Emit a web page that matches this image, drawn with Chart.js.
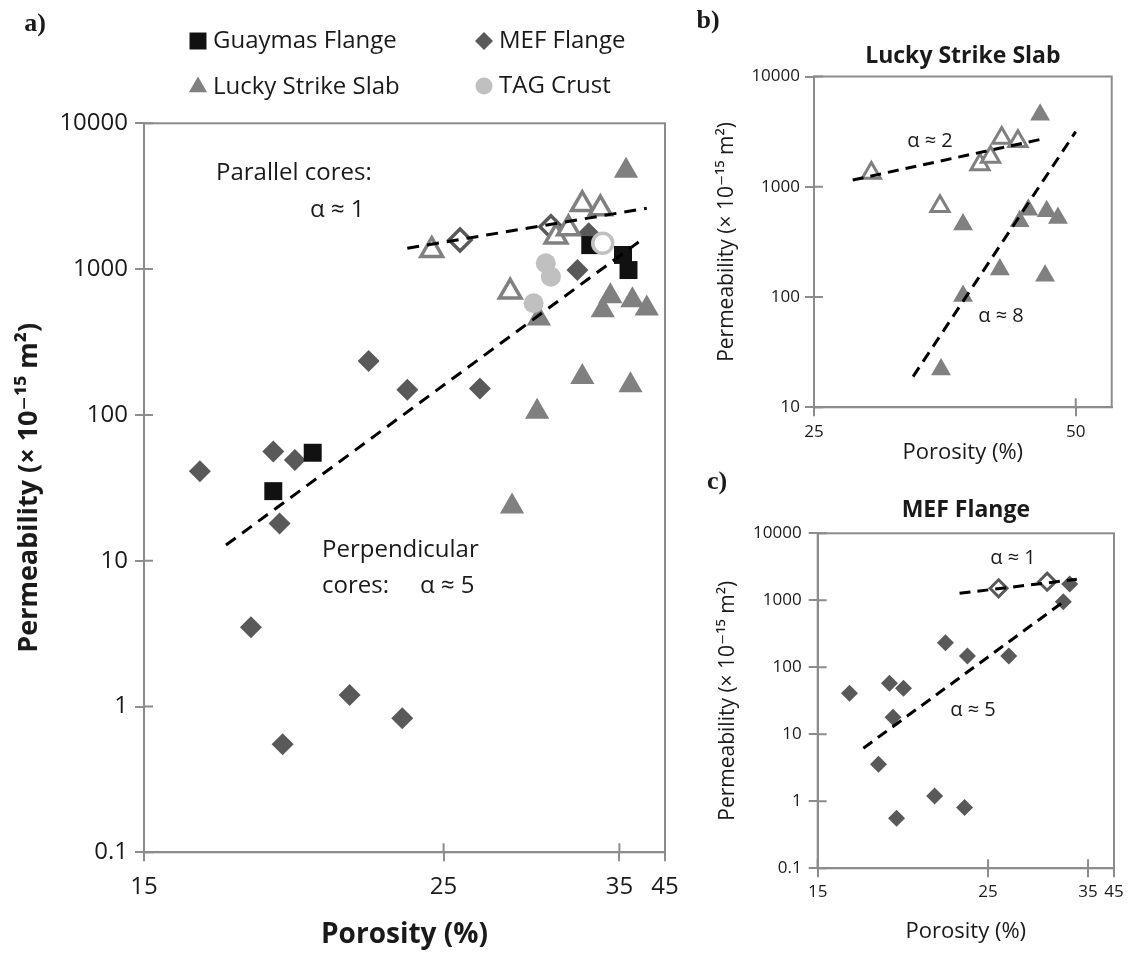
<!DOCTYPE html>
<html>
<head>
<meta charset="utf-8">
<script src="https://cdn.jsdelivr.net/npm/chart.js@4.4.1/dist/chart.umd.min.js"></script>
<style>
  body { margin: 0; background: #fff; }
  #wrap { position: relative; width: 1129px; height: 953px; }
  canvas { position: absolute; }
</style>
</head>
<body>
<div id="wrap">
  <canvas id="chartA" width="690" height="953" style="left:0;top:0"></canvas>
  <canvas id="chartB" width="439" height="480" style="left:690px;top:0"></canvas>
  <canvas id="chartC" width="439" height="493" style="left:690px;top:460px"></canvas>
</div>
<script>
// tick values
const porosityTicks = [15, 25, 35, 45];
const permTicks = [0.1, 1, 10, 100, 1000, 10000];
const slabPorosityTicks = [25, 50];
const slabPermTicks = [10, 100, 1000, 10000];

// panel a: all samples (porosity %, permeability x1e-15 m2)
const guaymasPhi = [33.1, 35.7, 36.8, 20.0, 18.7];
const guaymasK = [1460, 1250, 985, 55, 30];
const mefPhi = [22.0, 23.5, 26.8, 18.7, 19.4, 16.5, 18.9, 18.0, 21.3, 23.3, 19.0, 33.0, 32.3];
const mefK = [234, 149, 152, 56, 49, 41, 18, 3.5, 1.2, 0.83, 0.55, 1760, 985];
const mefParPhi = [25.8, 30.7];
const mefParK = [1585, 1950];
const lssPhi = [36.3, 34.4, 37.6, 40.7, 33.9, 30.0, 32.6, 37.2, 29.9, 28.5];
const lssK = [4720, 651, 612, 536, 522, 458, 182, 160, 105, 23.5];
const lssParPhi = [24.5, 28.4, 31.0, 31.75, 32.6, 33.75];
const lssParK = [1347, 698, 1664, 1897, 2783, 2600];
const tagPhi = [30.4, 30.7, 29.7];
const tagK = [1096, 887, 583];
const tagParPhi = [33.9];
const tagParK = [1503];
const fitParPhi = [23.5, 40.7];
const fitParK = [1390, 2612];
const fitPerpPhi = [17.25, 40.3];
const fitPerpK = [12.8, 1652];

// panel b: Lucky Strike slab
const slabPhi = [45.5, 44.1, 43.1, 46.3, 47.7, 37.1, 40.9, 46.1, 37.1, 35.0];
const slabK = [4510, 620, 487, 600, 522, 454, 178, 156, 102, 22];
const slabParPhi = [29.1, 34.9, 38.8, 39.9, 41.1, 42.9];
const slabParK = [1335, 665, 1590, 1865, 2773, 2587];
const slabFit2Phi = [27.7, 45.6];
const slabFit2K = [1152, 2696];
const slabFit8Phi = [32.5, 50.0];
const slabFit8K = [19, 3160];

// panel c: MEF flange
const flangePhi = [16.5, 18.6, 19.4, 18.8, 18.0, 19.0, 21.3, 23.3, 22.0, 23.5, 26.8, 32.2, 32.9];
const flangeK = [40.9, 57.7, 48.6, 17.9, 3.56, 0.557, 1.2, 0.81, 233, 147, 147, 953, 1750];
const flangeParPhi = [25.9, 30.5];
const flangeParK = [1510, 1895];
const flangeFit1Phi = [22.95, 33.7];
const flangeFit1K = [1271, 2058];
const flangeFit5Phi = [17.2, 32.0];
const flangeFit5K = [6.2, 902];

const GREY = '#8c8c8c';
const INK = '#1a1a1a';
const SANS = "'Open Sans', 'DejaVu Sans', sans-serif";
const SERIF = "'Liberation Serif', 'DejaVu Serif', serif";

Chart.defaults.font.family = SANS;
Chart.defaults.color = INK;
Chart.defaults.animation = false;

// the porosity axis of the paper is neither linear nor log: it is pinned at its tick labels
class AnchoredScale extends Chart.LinearScale {
  static id = 'anchored';
  static defaults = {};
  toFraction(v) {
    const a = this.options.anchors, f = this.options.fractions;
    let i = 0;
    while (i < a.length - 2 && v > a[i + 1]) i++;
    const t = Math.log(v / a[i]) / Math.log(a[i + 1] / a[i]);
    return f[i] + t * (f[i + 1] - f[i]);
  }
  getPixelForValue(value) {
    return this.getPixelForDecimal(this.toFraction(value));
  }
  getValueForPixel(pixel) {
    const d = this.getDecimalForPixel(pixel);
    const a = this.options.anchors, f = this.options.fractions;
    let i = 0;
    while (i < f.length - 2 && d > f[i + 1]) i++;
    const t = (d - f[i]) / (f[i + 1] - f[i]);
    return a[i] * Math.pow(a[i + 1] / a[i], t);
  }
}
Chart.register(AnchoredScale);

function pts(xs, ys) {
  return xs.map((x, i) => ({ x: x, y: ys[i] }));
}

// box round the plot and the inner half of every tick
const framePlugin = {
  id: 'frame',
  beforeDatasetsDraw(chart) {
    const { ctx, chartArea: a, scales } = chart;
    ctx.save();
    ctx.strokeStyle = GREY;
    ctx.lineWidth = 2;
    ctx.strokeRect(a.left, a.top, a.right - a.left, a.bottom - a.top);
    ctx.beginPath();
    scales.x.ticks.forEach(t => {
      const px = scales.x.getPixelForValue(t.value);
      ctx.moveTo(px, a.bottom);
      ctx.lineTo(px, a.bottom - 9);
    });
    scales.y.ticks.forEach(t => {
      const py = scales.y.getPixelForValue(t.value);
      ctx.moveTo(a.left, py);
      ctx.lineTo(a.left + 9, py);
    });
    ctx.stroke();
    ctx.restore();
  }
};

function notes(items) {
  return {
    id: 'notes',
    afterDraw(chart) {
      const ctx = chart.ctx;
      items.forEach(n => {
        ctx.save();
        ctx.font = n.font;
        ctx.fillStyle = INK;
        ctx.textAlign = n.align || 'left';
        ctx.textBaseline = 'middle';
        ctx.fillText(n.text, n.x, n.y);
        ctx.restore();
      });
    }
  };
}

// two-column legend, marker style taken from the dataset
function legendBox(entries) {
  return {
    id: 'legendBox',
    afterDraw(chart) {
      const ctx = chart.ctx;
      entries.forEach(e => {
        const ds = chart.data.datasets[e.ds];
        ctx.save();
        ctx.fillStyle = ds.backgroundColor;
        ctx.strokeStyle = ds.borderColor || ds.backgroundColor;
        ctx.lineWidth = 0;
        Chart.helpers.drawPoint(ctx, { pointStyle: ds.pointStyle, radius: e.r, borderWidth: 0, rotation: 0 }, e.x, e.y);
        ctx.font = '24px ' + SANS;
        ctx.fillStyle = INK;
        ctx.textAlign = 'left';
        ctx.textBaseline = 'middle';
        ctx.fillText(ds.label, e.x + 15, e.y);
        ctx.restore();
      });
    }
  };
}

const dashed = (w, dash) => ({ showLine: true, pointRadius: 0, borderColor: '#000', borderWidth: w, borderDash: dash, fill: false });
const grid = { display: true, drawOnChartArea: false, drawTicks: true, tickLength: 9, color: GREY, lineWidth: 2 };
const border = { display: true, color: GREY, width: 2 };
const fixTicks = values => scale => { scale.ticks = values.map(v => ({ value: v })); };
const KTITLE = 'Permeability (× 10⁻¹⁵ m²)';

// ---------- a) ----------
new Chart(document.getElementById('chartA'), {
  type: 'scatter',
  data: {
    datasets: [
      Object.assign({ label: 'Parallel fit', data: pts(fitParPhi, fitParK) }, dashed(3, [12, 8])),
      Object.assign({ label: 'Perpendicular fit', data: pts(fitPerpPhi, fitPerpK) }, dashed(3, [12, 8])),
      { label: 'TAG Crust (parallel)', data: pts(tagParPhi, tagParK), pointStyle: 'circle', pointRadius: 10, backgroundColor: '#ffffff', borderColor: '#c0c0c0', borderWidth: 3.5 },
      { label: 'TAG Crust', data: pts(tagPhi, tagK), pointStyle: 'circle', pointRadius: 10, backgroundColor: '#c0c0c0', borderColor: '#c0c0c0', borderWidth: 0 },
      { label: 'Guaymas Flange', data: pts(guaymasPhi, guaymasK), pointStyle: 'rect', pointRadius: 12.7, backgroundColor: '#111111', borderColor: '#111111', borderWidth: 0 },
      { label: 'Lucky Strike Slab (parallel)', data: pts(lssParPhi, lssParK), pointStyle: 'triangle', pointRadius: 12.5, backgroundColor: '#ffffff', borderColor: '#808080', borderWidth: 3.5 },
      { label: 'MEF Flange (parallel)', data: pts(mefParPhi, mefParK), pointStyle: 'rectRot', pointRadius: 11, backgroundColor: '#ffffff', borderColor: '#595959', borderWidth: 3.5 },
      { label: 'MEF Flange', data: pts(mefPhi, mefK), pointStyle: 'rectRot', pointRadius: 11, backgroundColor: '#595959', borderColor: '#595959', borderWidth: 0 },
      { label: 'Lucky Strike Slab', data: pts(lssPhi, lssK), pointStyle: 'triangle', pointRadius: 14, backgroundColor: '#808080', borderColor: '#808080', borderWidth: 0 }
    ]
  },
  options: {
    responsive: false,
    devicePixelRatio: 1,
    events: [],
    clip: false,
    layout: { padding: { top: 123.3, right: 25, left: 0, bottom: 0 } },
    plugins: { legend: { display: false }, tooltip: { enabled: false } },
    scales: {
      x: {
        type: 'anchored', min: 15, max: 45, bounds: 'data',
        anchors: porosityTicks, fractions: [0, 0.575, 0.9125, 1],
        afterBuildTicks: fixTicks(porosityTicks),
        afterFit: s => { s.height = 100.7; },
        grid: grid, border: border,
        ticks: { font: { size: 24 }, padding: 11, maxRotation: 0, autoSkip: false, callback: v => String(v) },
        title: { display: true, text: 'Porosity (%)', font: { size: 28, weight: 'bold' }, padding: { top: 0, bottom: 1 } }
      },
      y: {
        type: 'logarithmic', min: 0.1, max: 10000,
        afterBuildTicks: fixTicks(permTicks),
        afterFit: s => { s.width = 144; },
        grid: grid, border: border,
        ticks: { font: { size: 24 }, padding: 7, autoSkip: false, callback: v => String(v) },
        title: { display: true, text: KTITLE, font: { size: 27, weight: 'bold' }, padding: { top: 13, bottom: 0 } }
      }
    }
  },
  plugins: [
    framePlugin,
    legendBox([
      { ds: 4, r: 12, x: 198, y: 41 },
      { ds: 7, r: 9, x: 484, y: 41 },
      { ds: 8, r: 10.5, x: 198, y: 87 },
      { ds: 3, r: 8.5, x: 484, y: 86 }
    ]),
    notes([
      { text: 'a)', x: 35, y: 24, font: 'bold 26px ' + SERIF, align: 'center' },
      { text: 'Parallel cores:', x: 216, y: 173, font: '24px ' + SANS },
      { text: 'α ≈ 1', x: 310, y: 210, font: '24px ' + SANS },
      { text: 'Perpendicular', x: 322, y: 550, font: '24px ' + SANS },
      { text: 'cores:', x: 322, y: 586, font: '24px ' + SANS },
      { text: 'α ≈ 5', x: 420, y: 586, font: '24px ' + SANS }
    ])
  ]
});

// ---------- b) ----------
new Chart(document.getElementById('chartB'), {
  type: 'scatter',
  data: {
    datasets: [
      Object.assign({ label: 'α ≈ 2', data: pts(slabFit2Phi, slabFit2K) }, dashed(3, [11, 7])),
      Object.assign({ label: 'α ≈ 8', data: pts(slabFit8Phi, slabFit8K) }, dashed(3, [11, 7])),
      { label: 'Parallel', data: pts(slabParPhi, slabParK), pointStyle: 'triangle', pointRadius: 10.5, backgroundColor: '#ffffff', borderColor: '#808080', borderWidth: 3 },
      { label: 'Perpendicular', data: pts(slabPhi, slabK), pointStyle: 'triangle', pointRadius: 11.5, backgroundColor: '#808080', borderColor: '#808080', borderWidth: 0 }
    ]
  },
  options: {
    responsive: false,
    devicePixelRatio: 1,
    events: [],
    clip: false,
    layout: { padding: { top: 0, right: 17.3, left: 0, bottom: 0 } },
    plugins: {
      legend: { display: false }, tooltip: { enabled: false },
      title: { display: true, text: 'Lucky Strike Slab', fullSize: false, color: INK, font: { size: 23, weight: 'bold' }, padding: { top: 42.9, bottom: 6 } }
    },
    scales: {
      x: {
        type: 'logarithmic', min: 25, max: 55,
        afterBuildTicks: fixTicks(slabPorosityTicks),
        afterFit: s => { s.height = 72.7; },
        grid: grid, border: border,
        ticks: { font: { size: 17 }, padding: 5.5, maxRotation: 0, autoSkip: false, callback: v => String(v) },
        title: { display: true, text: 'Porosity (%)', font: { size: 22 }, padding: { top: 0, bottom: 13.8 } }
      },
      y: {
        type: 'logarithmic', min: 10, max: 10000,
        afterBuildTicks: fixTicks(slabPermTicks),
        afterFit: s => { s.width = 124; },
        grid: grid, border: border,
        ticks: { font: { size: 17 }, padding: 5, autoSkip: false, callback: v => String(v) },
        title: { display: true, text: KTITLE, font: { size: 21 }, padding: { top: 24.4, bottom: 0 } }
      }
    }
  },
  plugins: [
    framePlugin,
    notes([
      { text: 'b)', x: 18, y: 21.5, font: 'bold 26px ' + SERIF, align: 'center' },
      { text: 'α ≈ 2', x: 240, y: 141, font: '20px ' + SANS, align: 'center' },
      { text: 'α ≈ 8', x: 311, y: 316, font: '20px ' + SANS, align: 'center' }
    ])
  ]
});

// ---------- c) ----------
new Chart(document.getElementById('chartC'), {
  type: 'scatter',
  data: {
    datasets: [
      Object.assign({ label: 'α ≈ 1', data: pts(flangeFit1Phi, flangeFit1K) }, dashed(3, [11, 7])),
      Object.assign({ label: 'α ≈ 5', data: pts(flangeFit5Phi, flangeFit5K) }, dashed(3, [11, 7])),
      { label: 'Parallel', data: pts(flangeParPhi, flangeParK), pointStyle: 'rectRot', pointRadius: 8.5, backgroundColor: '#ffffff', borderColor: '#595959', borderWidth: 3 },
      { label: 'Perpendicular', data: pts(flangePhi, flangeK), pointStyle: 'rectRot', pointRadius: 8.5, backgroundColor: '#595959', borderColor: '#595959', borderWidth: 0 }
    ]
  },
  options: {
    responsive: false,
    devicePixelRatio: 1,
    events: [],
    clip: false,
    layout: { padding: { top: 0, right: 15, left: 0, bottom: 0 } },
    plugins: {
      legend: { display: false }, tooltip: { enabled: false },
      title: { display: true, text: 'MEF Flange', fullSize: false, color: INK, font: { size: 23, weight: 'bold' }, padding: { top: 36.2, bottom: 9.5 } }
    },
    scales: {
      x: {
        type: 'anchored', min: 15, max: 45, bounds: 'data',
        anchors: porosityTicks, fractions: [0, 0.575, 0.9125, 1],
        afterBuildTicks: fixTicks(porosityTicks),
        afterFit: s => { s.height = 84.7; },
        grid: grid, border: border,
        ticks: { font: { size: 17 }, padding: 4.8, maxRotation: 0, autoSkip: false, callback: v => String(v) },
        title: { display: true, text: 'Porosity (%)', font: { size: 22 }, padding: { top: 0, bottom: 8.1 } }
      },
      y: {
        type: 'logarithmic', min: 0.1, max: 10000,
        afterBuildTicks: fixTicks(permTicks),
        afterFit: s => { s.width = 127.7; },
        grid: grid, border: border,
        ticks: { font: { size: 17 }, padding: 7, autoSkip: false, callback: v => String(v) },
        title: { display: true, text: KTITLE, font: { size: 21 }, padding: { top: 25.4, bottom: 0 } }
      }
    }
  },
  plugins: [
    framePlugin,
    notes([
      { text: 'c)', x: 27, y: 22.5, font: 'bold 26px ' + SERIF, align: 'center' },
      { text: 'α ≈ 1', x: 323, y: 98, font: '20px ' + SANS, align: 'center' },
      { text: 'α ≈ 5', x: 283, y: 250, font: '20px ' + SANS, align: 'center' }
    ])
  ]
});
</script>
</body>
</html>
